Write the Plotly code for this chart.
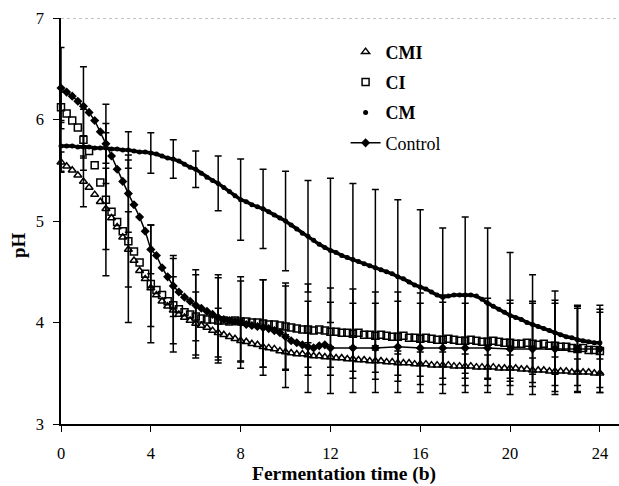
import plotly.graph_objects as go

# sampling grid (h)
time_q = [i / 4 for i in range(97)]
hours = list(range(25))

# pH series (every 0.25 h)
cmi = [5.58, 5.54, 5.50, 5.45, 5.39, 5.33, 5.26, 5.19, 5.12, 5.03, 4.94, 4.84,
       4.72, 4.61, 4.51, 4.43, 4.34, 4.27, 4.21, 4.16, 4.12, 4.08, 4.05, 4.02,
       3.99, 3.97, 3.95, 3.92, 3.90, 3.88, 3.86, 3.84, 3.82, 3.81, 3.79, 3.78,
       3.76, 3.75, 3.74, 3.72, 3.71, 3.70, 3.69, 3.69, 3.68, 3.67, 3.67, 3.66,
       3.66, 3.65, 3.65, 3.64, 3.64, 3.63, 3.63, 3.62, 3.62, 3.62, 3.61, 3.61,
       3.60, 3.60, 3.60, 3.59, 3.59, 3.59, 3.58, 3.58, 3.58, 3.58, 3.57, 3.57,
       3.57, 3.57, 3.56, 3.56, 3.56, 3.56, 3.55, 3.55, 3.55, 3.55, 3.54, 3.54,
       3.53, 3.53, 3.53, 3.52, 3.52, 3.52, 3.52, 3.51, 3.51, 3.51, 3.51, 3.50,
       3.50]

ci = [6.12, 6.06, 5.99, 5.92, 5.80, 5.69, 5.55, 5.38, 5.21, 5.09, 4.99, 4.90,
      4.80, 4.70, 4.59, 4.48, 4.38, 4.32, 4.27, 4.21, 4.17, 4.13, 4.10, 4.08,
      4.06, 4.04, 4.03, 4.03, 4.02, 4.02, 4.01, 4.02, 4.01, 4.01, 4.00, 4.00,
      3.99, 3.98, 3.98, 3.97, 3.96, 3.95, 3.94, 3.93, 3.93, 3.92, 3.93, 3.92,
      3.91, 3.91, 3.90, 3.90, 3.89, 3.90, 3.88, 3.88, 3.87, 3.88, 3.87, 3.86,
      3.86, 3.87, 3.85, 3.85, 3.84, 3.85, 3.84, 3.83, 3.83, 3.84, 3.83, 3.82,
      3.82, 3.83, 3.82, 3.81, 3.81, 3.82, 3.81, 3.80, 3.80, 3.79, 3.79, 3.80,
      3.79, 3.78, 3.79, 3.77, 3.77, 3.76, 3.76, 3.75, 3.74, 3.75, 3.73, 3.73,
      3.72]

cm = [5.74, 5.74, 5.74, 5.73, 5.73, 5.73, 5.72, 5.72, 5.72, 5.71, 5.71, 5.70,
      5.70, 5.69, 5.68, 5.68, 5.67, 5.66, 5.64, 5.62, 5.61, 5.59, 5.56, 5.53,
      5.51, 5.47, 5.43, 5.40, 5.37, 5.33, 5.29, 5.25, 5.21, 5.19, 5.16, 5.14,
      5.12, 5.09, 5.06, 5.03, 5.00, 4.96, 4.92, 4.88, 4.85, 4.81, 4.77, 4.74,
      4.71, 4.69, 4.66, 4.64, 4.62, 4.60, 4.58, 4.56, 4.54, 4.52, 4.50, 4.48,
      4.45, 4.43, 4.40, 4.37, 4.35, 4.33, 4.30, 4.27, 4.25, 4.26, 4.27, 4.27,
      4.27, 4.27, 4.26, 4.23, 4.19, 4.16, 4.13, 4.10, 4.07, 4.05, 4.03, 4.00,
      3.98, 3.96, 3.94, 3.92, 3.90, 3.88, 3.86, 3.85, 3.83, 3.82, 3.81, 3.80,
      3.80]

# Control: every 0.25 h up to 12 h, then hourly
ctrl_time = time_q[:49] + [13, 14, 15, 16, 17, 18, 19, 20, 21, 22, 23, 24]
ctrl = [6.31, 6.27, 6.23, 6.18, 6.13, 6.07, 5.99, 5.88, 5.76, 5.64, 5.51, 5.39,
        5.27, 5.16, 5.04, 4.90, 4.72, 4.66, 4.54, 4.45, 4.36, 4.30, 4.25, 4.21,
        4.17, 4.14, 4.11, 4.08, 4.05, 4.03, 4.02, 4.01, 4.00, 3.98, 3.97, 3.96,
        3.95, 3.94, 3.92, 3.90, 3.86, 3.82, 3.80, 3.78, 3.76, 3.75, 3.77, 3.78,
        3.75,
        3.75, 3.75, 3.76, 3.75, 3.75, 3.75, 3.75, 3.74, 3.74, 3.74, 3.74, 3.74]

# error bars at whole hours 0..24
cmi_err = [0.10, 0.25, 0.40, 0.37, 0.38, 0.33, 0.31, 0.24, 0.20, 0.20, 0.17, 0.12,
           0.10, 0.12, 0.11, 0.12, 0.12, 0.13, 0.12, 0.12, 0.13, 0.12, 0.14, 0.13, 0.14]
ci_err = [0.15, 0.30, 0.75, 0.80, 0.58, 0.46, 0.41, 0.42, 0.40, 0.43, 0.43, 0.45,
          0.43, 0.44, 0.43, 0.44, 0.45, 0.44, 0.44, 0.43, 0.42, 0.42, 0.45, 0.42, 0.41]
cm_err = [0.25, 0.11, 0.15, 0.18, 0.20, 0.19, 0.18, 0.27, 0.40, 0.39, 0.49, 0.55,
          0.71, 0.75, 0.77, 0.76, 0.76, 0.68, 0.77, 0.74, 0.62, 0.49, 0.41, 0.31, 0.30]
ctrl_err = [0.40, 0.39, 0.39, 0.38, 0.24, 0.30, 0.35, 0.42, 0.45, 0.47, 0.50, 0.45,
            0.45, 0.44, 0.44, 0.45, 0.44, 0.45, 0.44, 0.44, 0.45, 0.45, 0.45, 0.43, 0.43]

x_ticks = [0, 4, 8, 12, 16, 20, 24]
y_ticks = [3, 4, 5, 6, 7]

FONT = "Liberation Serif"

fig = go.Figure()


def hourly(tvals, yvals):
    return [yvals[tvals.index(h)] for h in hours]


for tv, yv, er in [(time_q, cmi, cmi_err), (time_q, ci, ci_err),
                   (time_q, cm, cm_err), (ctrl_time, ctrl, ctrl_err)]:
    fig.add_trace(go.Scatter(
        x=hours, y=hourly(tv, yv), mode="markers",
        marker=dict(size=1, color="rgba(0,0,0,0)"),
        error_y=dict(type="data", array=er, color="black", thickness=1.5, width=3.5),
        showlegend=False, hoverinfo="skip", cliponaxis=False))

# thick band under the dense CM dots
fig.add_trace(go.Scatter(
    x=time_q, y=cm, mode="lines", line=dict(color="black", width=3.5),
    showlegend=False, hoverinfo="skip", cliponaxis=False))

fig.add_trace(go.Scatter(
    x=time_q, y=cmi, mode="markers", name="<b>CMI</b>", legendgroup="a",
    marker=dict(symbol="triangle-up-open", size=7, color="black", line=dict(width=1.5)),
    cliponaxis=False))
fig.add_trace(go.Scatter(
    x=time_q, y=ci, mode="markers", name="<b>CI</b>", legendgroup="b",
    marker=dict(symbol="square-open", size=7, color="black", line=dict(width=1.5)),
    cliponaxis=False))
fig.add_trace(go.Scatter(
    x=time_q, y=cm, mode="markers", name="<b>CM</b>", legendgroup="c",
    marker=dict(symbol="circle", size=5, color="black"),
    cliponaxis=False))
fig.add_trace(go.Scatter(
    x=ctrl_time, y=ctrl, mode="lines+markers", name="Control", legendgroup="d",
    line=dict(color="black", width=1.5),
    marker=dict(symbol="diamond", size=7, color="black"),
    cliponaxis=False))

axis_common = dict(
    showline=True, linecolor="black", linewidth=1.6, ticks="outside",
    ticklen=6, tickwidth=1.4, tickcolor="black", showgrid=False, zeroline=False,
    tickfont=dict(family=FONT, size=16.5, color="black"))

fig.update_xaxes(range=[0, 24.85], tickvals=x_ticks, ticklabelstandoff=7, **axis_common)
fig.update_yaxes(range=[3, 7], tickvals=y_ticks, ticklabelstandoff=6, **axis_common)

fig.add_shape(type="line", xref="paper", yref="y", x0=0, x1=1, y0=7, y1=7,
              line=dict(color="#888888", width=1, dash="dot"))

fig.add_annotation(text="<b>Fermentation time (b)</b>", xref="paper", yref="paper",
                   x=0.507, y=0, yanchor="middle", yshift=-50, showarrow=False,
                   font=dict(family=FONT, size=19.5, color="black"))
fig.add_annotation(text="<b>pH</b>", xref="paper", yref="paper", x=0, y=0.441,
                   xanchor="center", yanchor="middle", xshift=-42, textangle=-90,
                   showarrow=False, font=dict(family=FONT, size=19, color="black"))

fig.update_layout(
    width=619, height=486,
    margin=dict(l=61, r=0, t=18, b=62),
    paper_bgcolor="white", plot_bgcolor="white",
    font=dict(family=FONT, color="black"),
    legend=dict(x=0.51, y=0.962, xanchor="left", yanchor="top",
                bgcolor="rgba(0,0,0,0)", font=dict(family=FONT, size=18, color="black"),
                tracegroupgap=4),
)

fig.write_html("out.html")
